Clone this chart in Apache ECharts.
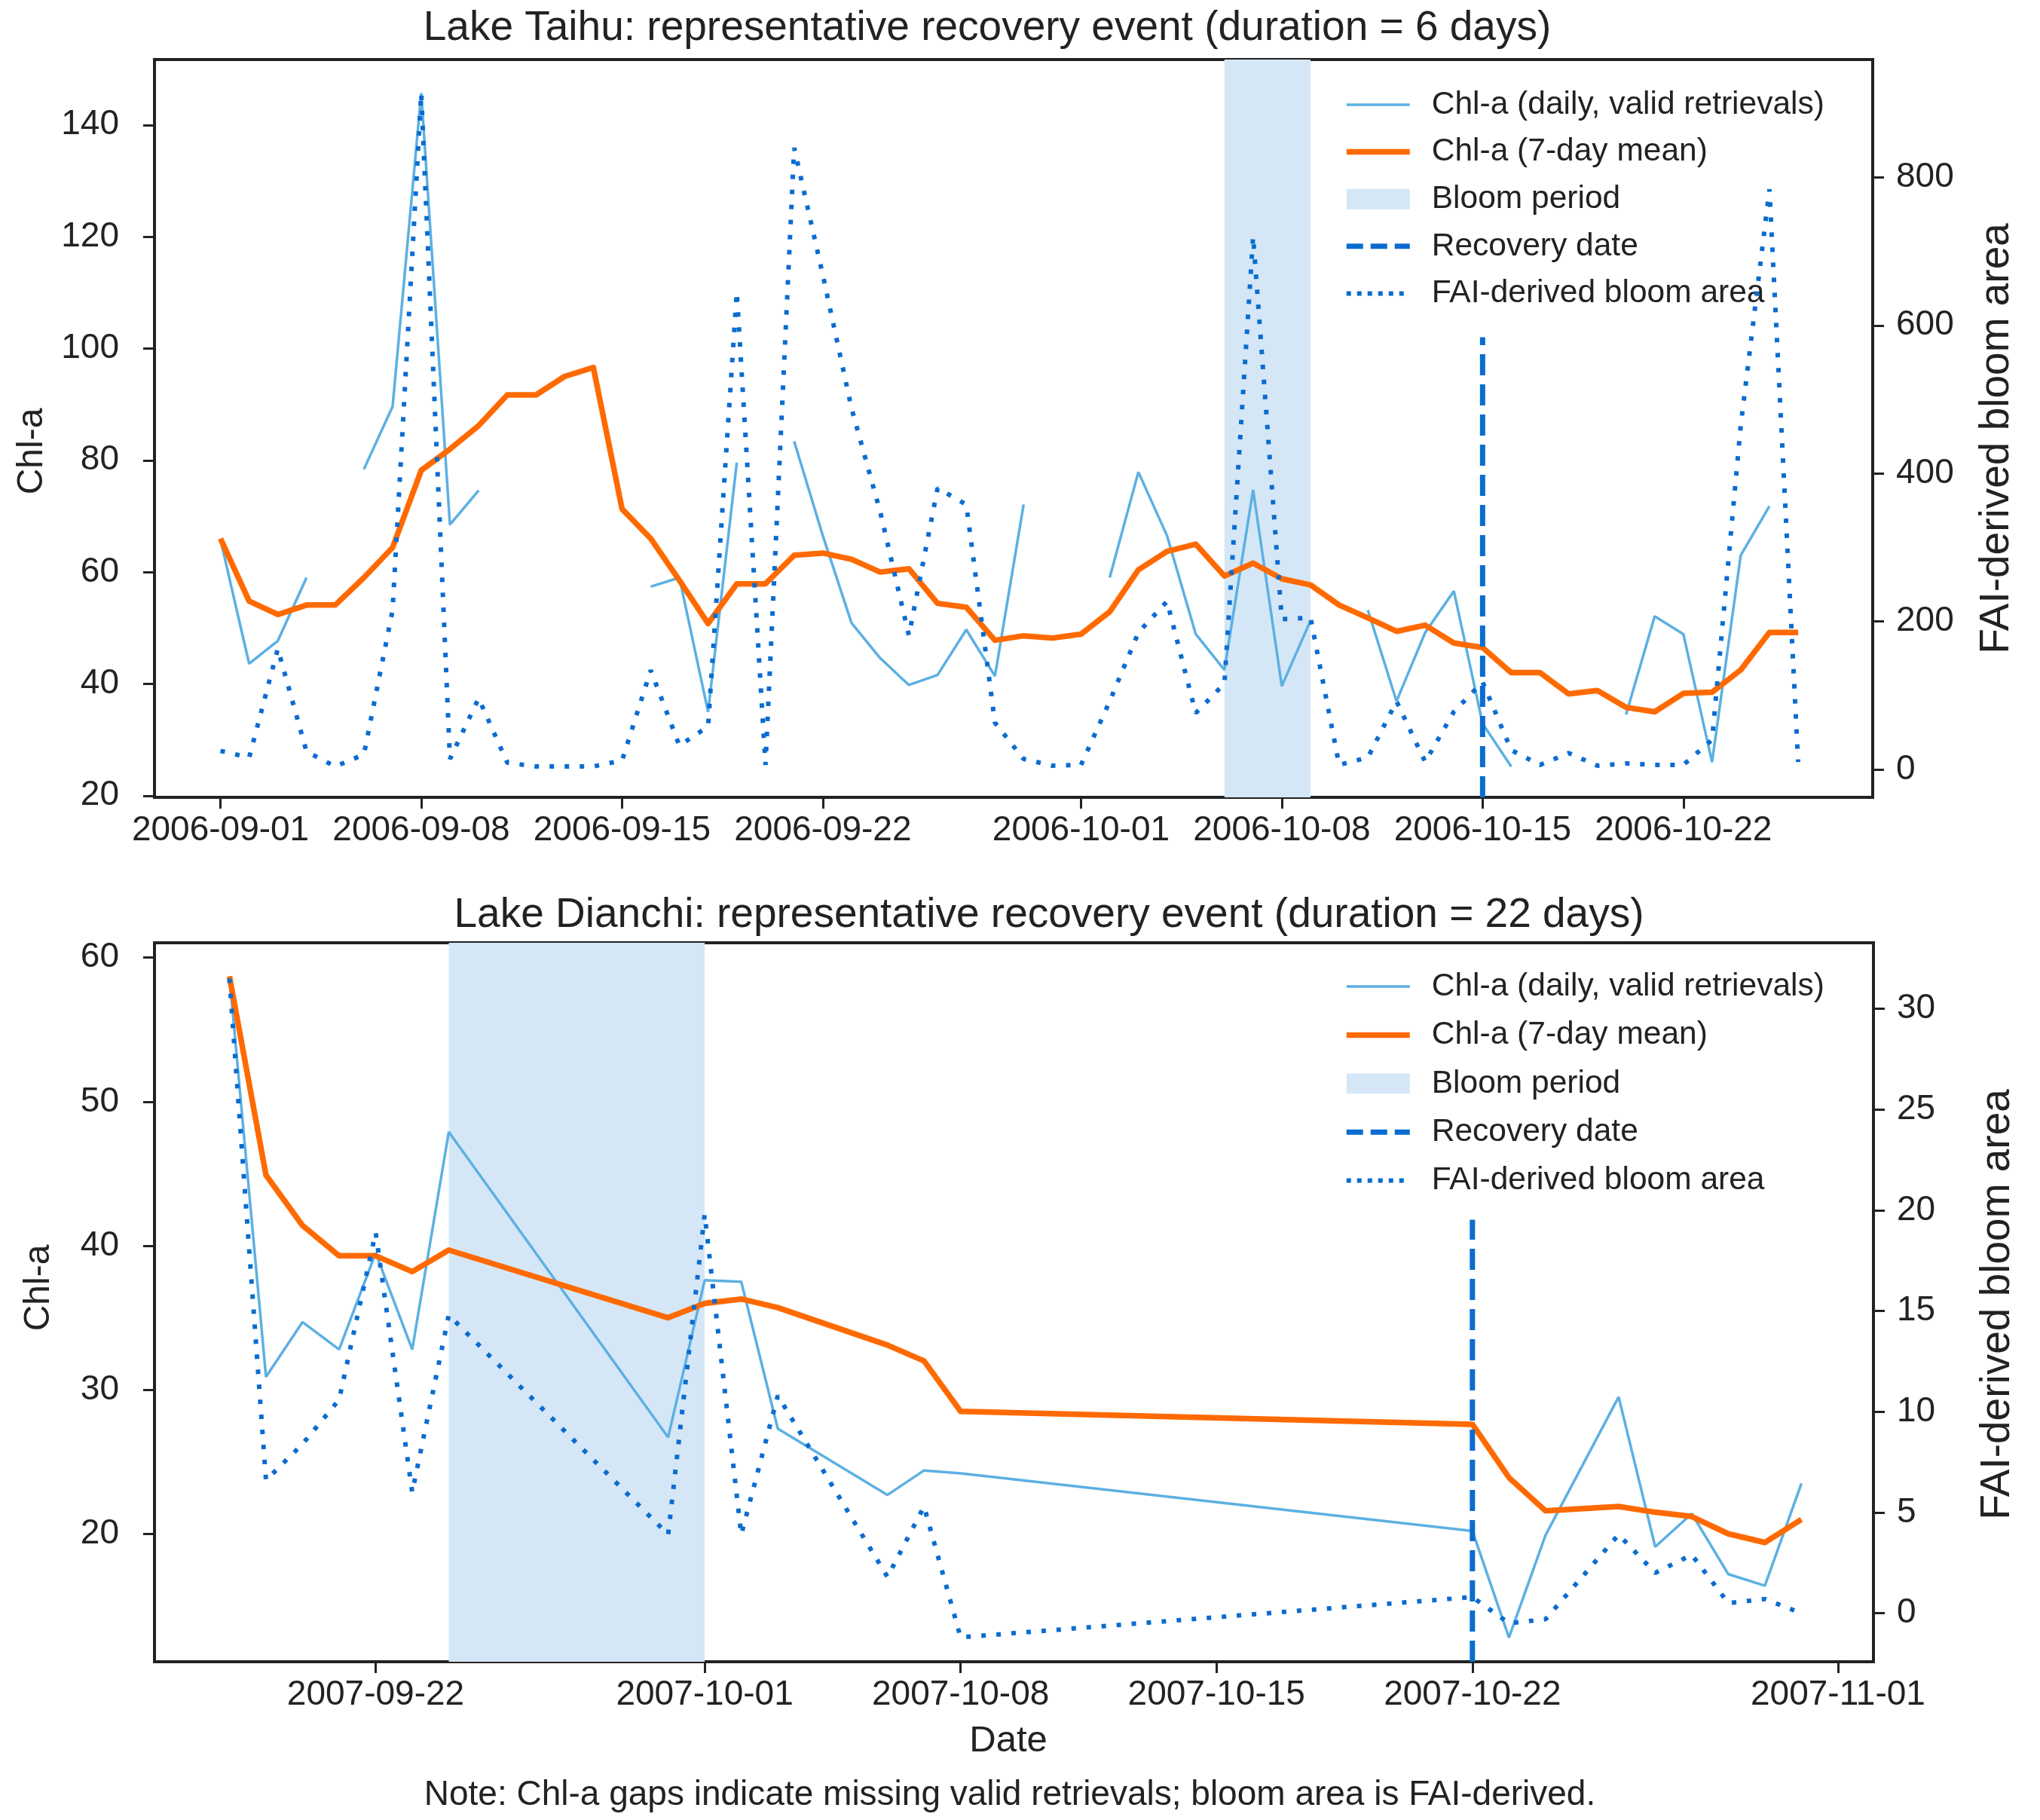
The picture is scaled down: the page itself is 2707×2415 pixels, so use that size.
<!DOCTYPE html>
<html>
<head>
<meta charset="utf-8">
<title>Representative recovery events</title>
<script src="https://cdn.jsdelivr.net/npm/echarts@6/dist/echarts.min.js"></script>
<style>
  html, body { margin: 0; padding: 0; background: #fff; }
  #main { width: 2707px; height: 2415px; }
</style>
</head>
<body>
<div id="main"></div>
<script>
// ---- Lake Taihu (daily, starting 2006-09-01) ----
var taihuStart = '2006-09-01';
var taihuDaily = [65.8, 43.6, 47.7, 59.0, null, 78.4, 89.6, 145.7, 68.5, 74.6,
  null, null, null, null, null, 57.4, 59.0, 35.0, 79.6, null,
  83.4, 66.5, 50.9, 44.6, 39.8, 41.6, 49.7, 41.4, 72.1, null,
  null, 59.0, 77.9, 66.5, 48.9, 42.5, 74.7, 39.6, 51.3, null,
  53.2, 36.9, 49.2, 56.6, 32.9, 25.2, null, null, null, 34.5,
  52.1, 48.9, 26.0, 63.0, 71.8, null];
var taihuMean = [66.0, 54.8, 52.4, 54.1, 54.1, 59.0, 64.4, 78.2, 82.0, 86.2,
  91.7, 91.7, 95.0, 96.6, 71.3, 66.0, 58.5, 50.8, 57.9, 57.9,
  63.0, 63.4, 62.3, 60.0, 60.6, 54.4, 53.7, 47.8, 48.6, 48.2,
  48.9, 52.9, 60.4, 63.7, 65.0, 59.3, 61.6, 58.8, 57.7, 54.1,
  51.8, 49.4, 50.5, 47.3, 46.5, 42.0, 42.0, 38.2, 38.8, 35.8,
  35.0, 38.3, 38.5, 42.5, 49.2, 49.2];
var taihuArea = [25, 16, 163, 24, 4, 20, 215, 914, 14, 96,
  9, 4, 4, 4, 12, 134, 32, 58, 645, 6,
  840, 668, 488, 348, 181, 380, 358, 63, 14, 5,
  6, 92, 185, 227, 76, 116, 720, 203, 205, 6,
  16, 92, 10, 78, 118, 26, 6, 22, 5, 8,
  6, 6, 40, 465, 784, 10];
var taihuBloom = ['2006-10-06', '2006-10-09'];
var taihuRecovery = '2006-10-15';
var taihuRecoveryTop = 102;
var taihuTicks = ['2006-09-01', '2006-09-08', '2006-09-15', '2006-09-22',
  '2006-10-01', '2006-10-08', '2006-10-15', '2006-10-22'];
var taihuLeftTicks = [20, 40, 60, 80, 100, 120, 140];
var taihuRightTicks = [0, 200, 400, 600, 800];

// ---- Lake Dianchi (valid retrieval dates only) ----
var dianchiDates = ['2007-09-18', '2007-09-19', '2007-09-20', '2007-09-21', '2007-09-22',
  '2007-09-23', '2007-09-24', '2007-09-30', '2007-10-01', '2007-10-02',
  '2007-10-03', '2007-10-06', '2007-10-07', '2007-10-08', '2007-10-22',
  '2007-10-23', '2007-10-24', '2007-10-26', '2007-10-27', '2007-10-28',
  '2007-10-29', '2007-10-30', '2007-10-31'];
var dianchiDaily = [58.7, 30.9, 34.7, 32.8, 39.5, 32.8, 47.9, 26.7, 37.6, 37.5,
  27.3, 22.7, 24.4, 24.2, 20.2, 12.8, 19.9, 29.5, 19.1, 21.4,
  17.2, 16.4, 23.5];
var dianchiMean = [58.7, 44.9, 41.4, 39.3, 39.3, 38.2, 39.7, 35.0, 36.0, 36.3,
  35.7, 33.1, 32.0, 28.5, 27.6, 23.9, 21.6, 21.9, 21.5, 21.2,
  20.0, 19.4, 21.0];
var dianchiArea = [31.5, 6.6, 8.4, 10.6, 18.9, 6.0, 14.8, 3.9, 19.8, 3.9,
  10.8, 1.8, 5.3, -1.2, 0.8, -0.5, -0.3, 3.9, 2.0, 2.9,
  0.5, 0.7, 0.0];
var dianchiBloom = ['2007-09-24', '2007-10-01'];
var dianchiRecovery = '2007-10-22';
var dianchiRecoveryTop = 41.8;
var dianchiTicks = ['2007-09-22', '2007-10-01', '2007-10-08', '2007-10-15',
  '2007-10-22', '2007-11-01'];
var dianchiLeftTicks = [20, 30, 40, 50, 60];
var dianchiRightTicks = [0, 5, 10, 15, 20, 25, 30];

var N_DAILY = 'Chl-a (daily, valid retrievals)';
var N_MEAN = 'Chl-a (7-day mean)';
var N_BLOOM = 'Bloom period';
var N_REC = 'Recovery date';
var N_AREA = 'FAI-derived bloom area';

var FONT = '"Liberation Sans", Arial, Helvetica, sans-serif';
var INK = '#222222';
var BAND = '#d5e7f6';
var C_DAILY = '#5cb0e2';
var C_MEAN = '#ff6a00';
var C_BLUE = '#0a6cd0';
var W_DAILY = 3.5, W_MEAN = 7.5, W_REC = 7, W_AREA = 6;

function dayNum(s) {
  var p = s.split('-');
  return Date.UTC(+p[0], +p[1] - 1, +p[2]) / 86400000;
}
function dayLabel(v) {
  return new Date(Math.round(v) * 86400000).toISOString().slice(0, 10);
}
function pairs(xs, ys) {
  return xs.map(function (x, i) { return [x, ys[i] == null ? '-' : ys[i]]; });
}

var t0 = dayNum(taihuStart);
var taihuX = taihuMean.map(function (v, i) { return t0 + i; });
var d0 = dayNum(dianchiDates[0]);
var dianchiX = dianchiDates.map(dayNum);

var axisRange = {
  top: { xmin: t0 - 2.3, xmax: t0 + 57.6, lmin: 19.7, lmax: 151.7, rmin: -37.8, rmax: 959.3 },
  bot: { xmin: d0 - 2.05, xmax: d0 + 44.97, lmin: 11.12, lmax: 61.03, rmin: -2.41, rmax: 33.28 }
};

function xAxisCfg(grid, r, ticks) {
  var vals = ticks.map(dayNum);
  return {
    type: 'value', gridIndex: grid, min: r.xmin, max: r.xmax,
    axisLine: { show: false, onZero: false },
    axisTick: { show: true, length: 15, lineStyle: { color: INK, width: 3 }, customValues: vals },
    axisLabel: { color: INK, fontSize: 46, fontFamily: FONT, margin: 21, customValues: vals, formatter: dayLabel },
    splitLine: { show: false }
  };
}
function yAxisCfg(grid, pos, min, max, ticks, margin) {
  return {
    type: 'value', gridIndex: grid, position: pos, min: min, max: max,
    axisLine: { show: false, onZero: false },
    axisTick: { show: true, length: 15, lineStyle: { color: INK, width: 3 }, customValues: ticks },
    axisLabel: { color: INK, fontSize: 46, fontFamily: FONT, margin: margin, customValues: ticks },
    splitLine: { show: false }
  };
}

function chartSeries(xi, yl, yr, xs, daily, mean, area, bloom, rec, recTop, lmin) {
  return [
    {
      name: N_BLOOM, type: 'line', xAxisIndex: xi, yAxisIndex: yl, data: [], symbol: 'none', z: 1,
      itemStyle: { color: BAND }, lineStyle: { color: BAND },
      markArea: { silent: true, itemStyle: { color: BAND }, data: [[{ xAxis: dayNum(bloom[0]) }, { xAxis: dayNum(bloom[1]) }]] }
    },
    {
      name: N_DAILY, type: 'line', xAxisIndex: xi, yAxisIndex: yl, data: pairs(xs, daily), symbol: 'none', z: 2,
      connectNulls: false, itemStyle: { color: C_DAILY }, lineStyle: { color: C_DAILY, width: W_DAILY }
    },
    {
      name: N_MEAN, type: 'line', xAxisIndex: xi, yAxisIndex: yl, data: pairs(xs, mean), symbol: 'none', z: 3,
      itemStyle: { color: C_MEAN }, lineStyle: { color: C_MEAN, width: W_MEAN, join: 'round' }
    },
    {
      name: N_REC, type: 'line', xAxisIndex: xi, yAxisIndex: yl, symbol: 'none', z: 4,
      data: [[dayNum(rec), lmin], [dayNum(rec), recTop]],
      itemStyle: { color: C_BLUE }, lineStyle: { color: C_BLUE, width: W_REC, type: [28, 12] }
    },
    {
      name: N_AREA, type: 'line', xAxisIndex: xi, yAxisIndex: yr, data: pairs(xs, area), symbol: 'none', z: 5,
      itemStyle: { color: C_BLUE }, lineStyle: { color: C_BLUE, width: W_AREA, type: [6, 14] }
    }
  ];
}

function legendCfg(top, gap) {
  return {
    orient: 'vertical', left: 1783, top: top, padding: 0,
    itemWidth: 84, itemHeight: 27, itemGap: gap, selectedMode: false,
    itemStyle: { opacity: 0 },
    textStyle: { fontSize: 42.5, fontFamily: FONT, color: INK, lineHeight: 44, padding: [0, 0, 0, 24] },
    data: [
      { name: N_DAILY, lineStyle: { width: W_DAILY, color: C_DAILY } },
      { name: N_MEAN, lineStyle: { width: W_MEAN, color: C_MEAN } },
      { name: N_BLOOM, icon: 'rect', itemStyle: { color: BAND, opacity: 1 } },
      { name: N_REC, lineStyle: { width: W_REC, color: C_BLUE, type: [22, 10] } },
      { name: N_AREA, lineStyle: { width: W_AREA, color: C_BLUE, type: [6, 8] } }
    ]
  };
}

function label(text, x, y, size, rot) {
  return {
    type: 'text', x: x, y: y, rotation: rot || 0, silent: true,
    style: {
      text: text, fill: INK, fontSize: size, fontFamily: FONT,
      align: 'center', verticalAlign: 'middle', textAlign: 'center', textVerticalAlign: 'middle'
    }
  };
}

var T = axisRange.top, B = axisRange.bot;
var chart = echarts.init(document.getElementById('main'), null, { width: 2707, height: 2415, renderer: 'canvas' });

chart.setOption({
  backgroundColor: '#ffffff',
  animation: false,
  grid: [
    { left: 205, top: 79, width: 2280, height: 979, show: true, borderColor: INK, borderWidth: 4, backgroundColor: 'transparent' },
    { left: 205, top: 1251, width: 2281, height: 954, show: true, borderColor: INK, borderWidth: 4, backgroundColor: 'transparent' }
  ],
  xAxis: [xAxisCfg(0, T, taihuTicks), xAxisCfg(1, B, dianchiTicks)],
  yAxis: [
    yAxisCfg(0, 'left', T.lmin, T.lmax, taihuLeftTicks, 47),
    yAxisCfg(0, 'right', T.rmin, T.rmax, taihuRightTicks, 31),
    yAxisCfg(1, 'left', B.lmin, B.lmax, dianchiLeftTicks, 47),
    yAxisCfg(1, 'right', B.rmin, B.rmax, dianchiRightTicks, 31)
  ],
  legend: [legendCfg(117, 18.6), legendCfg(1287, 20.4)],
  series: chartSeries(0, 0, 1, taihuX, taihuDaily, taihuMean, taihuArea, taihuBloom, taihuRecovery, taihuRecoveryTop, T.lmin)
    .concat(chartSeries(1, 2, 3, dianchiX, dianchiDaily, dianchiMean, dianchiArea, dianchiBloom, dianchiRecovery, dianchiRecoveryTop, B.lmin)),
  graphic: [
    label('Lake Taihu: representative recovery event (duration = 6 days)', 1310, 38, 55),
    label('Lake Dianchi: representative recovery event (duration = 22 days)', 1392, 1215, 55),
    label('Chl-a', 43, 599, 48, Math.PI / 2),
    label('Chl-a', 52, 1709, 48, Math.PI / 2),
    label('FAI-derived bloom area', 2650, 582, 55, Math.PI / 2),
    label('FAI-derived bloom area', 2651, 1731, 55, Math.PI / 2),
    label('Date', 1338, 2310, 49),
    label('Note: Chl-a gaps indicate missing valid retrievals; bloom area is FAI-derived.', 1340, 2382, 46)
  ]
});
</script>
</body>
</html>
